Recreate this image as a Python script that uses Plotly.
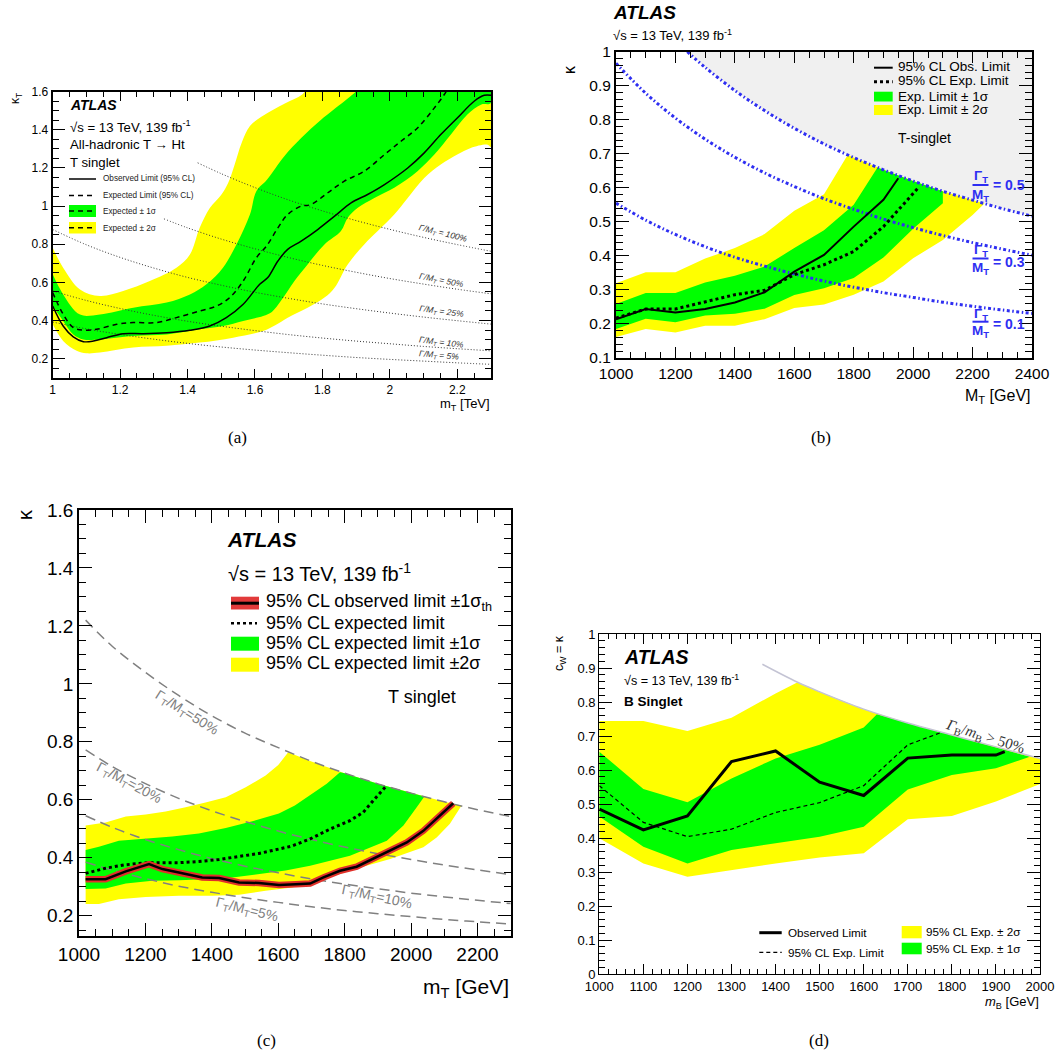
import plotly.graph_objects as go

W, H = 1062, 1056
SANS = "Liberation Sans"
SERIF = "Liberation Serif"
YEL = "#ffff00"
GRN = "#00ff00"

# ---------------- Panel (a) data: kappa_T vs m_T [TeV] ----------------
a_obs_x = [1.0, 1.031, 1.061, 1.091, 1.121, 1.16, 1.209, 1.268, 1.338, 1.407, 1.466, 1.515, 1.565, 1.614,
           1.638, 1.668, 1.697, 1.737, 1.786, 1.836, 1.885, 1.934, 1.984, 2.053, 2.102, 2.151, 2.2, 2.25, 2.28, 2.3]
a_obs_y = [0.476, 0.371, 0.314, 0.289, 0.292, 0.31, 0.331, 0.331, 0.336, 0.349, 0.371, 0.415, 0.485, 0.59,
           0.625, 0.712, 0.773, 0.816, 0.877, 0.947, 1.017, 1.061, 1.113, 1.2, 1.279, 1.375, 1.462, 1.55, 1.581, 1.581]
a_exp_x = [1.0, 1.031, 1.061, 1.091, 1.13, 1.19, 1.239, 1.308, 1.367, 1.436, 1.486, 1.525, 1.565, 1.604,
           1.634, 1.668, 1.697, 1.737, 1.766, 1.816, 1.865, 1.924, 1.984, 2.033, 2.082, 2.132, 2.161, 2.17]
a_exp_y = [0.546, 0.433, 0.363, 0.349, 0.354, 0.38, 0.389, 0.389, 0.415, 0.45, 0.476, 0.52, 0.607, 0.729,
           0.79, 0.886, 0.956, 1.0, 1.008, 1.07, 1.131, 1.183, 1.27, 1.34, 1.41, 1.515, 1.584, 1.61]
a_g_up_x = [1.0, 1.031, 1.081, 1.14, 1.239, 1.338, 1.407, 1.456, 1.505, 1.545, 1.585, 1.604, 1.636, 1.687,
            1.737, 1.796, 1.865, 1.895, 1.93, 2.3]
a_g_up_y = [0.642, 0.537, 0.431, 0.432, 0.467, 0.494, 0.537, 0.59, 0.677, 0.799, 0.956, 1.078, 1.14, 1.262,
            1.357, 1.453, 1.55, 1.593, 1.65, 1.65]
a_g_lo_x = [1.0, 1.031, 1.061, 1.091, 1.14, 1.239, 1.338, 1.436, 1.505, 1.565, 1.624, 1.65, 1.677, 1.717,
            1.756, 1.806, 1.855, 1.875, 1.905, 1.954, 2.013, 2.082, 2.132, 2.181, 2.23, 2.27, 2.3]
a_g_lo_y = [0.476, 0.398, 0.327, 0.301, 0.301, 0.319, 0.327, 0.354, 0.371, 0.398, 0.424, 0.445, 0.503, 0.607,
            0.694, 0.799, 0.869, 0.939, 0.991, 1.043, 1.096, 1.183, 1.27, 1.375, 1.48, 1.532, 1.541]
a_y_up_x = [1.0, 1.031, 1.081, 1.14, 1.209, 1.288, 1.367, 1.407, 1.436, 1.466, 1.5, 1.52, 1.54, 1.56,
            1.585, 1.62, 1.69, 1.74, 1.77, 2.3]
a_y_up_y = [0.782, 0.677, 0.563, 0.529, 0.555, 0.607, 0.677, 0.746, 0.886, 0.99, 1.06, 1.12, 1.22, 1.33,
            1.42, 1.47, 1.54, 1.585, 1.65, 1.65]
a_y_lo_x = [1.0, 1.031, 1.071, 1.1, 1.14, 1.239, 1.338, 1.436, 1.535, 1.624, 1.66, 1.697, 1.756, 1.806,
            1.836, 1.875, 1.924, 1.964, 2.013, 2.053, 2.102, 2.151, 2.2, 2.24, 2.29, 2.3]
a_y_lo_y = [0.38, 0.293, 0.241, 0.228, 0.232, 0.258, 0.267, 0.284, 0.31, 0.345, 0.375, 0.415, 0.467, 0.52,
            0.572, 0.694, 0.799, 0.869, 0.956, 1.043, 1.148, 1.218, 1.27, 1.305, 1.322, 1.31]
a_w_x = [1.0, 1.1, 1.2, 1.3, 1.4, 1.5, 1.6, 1.7, 1.8, 1.9, 2.0, 2.1, 2.2, 2.3]
a_w100_x = [1.43, 1.5, 1.6, 1.7, 1.8, 1.9, 2.0, 2.1, 2.2, 2.3]
a_w100_y = [1.227, 1.17, 1.097, 1.032, 0.975, 0.924, 0.878, 0.836, 0.798, 0.763]
a_w50_x = [1.33, 1.4, 1.5, 1.6, 1.7, 1.8, 1.9, 2.0, 2.1, 2.2, 2.3]
a_w50_y = [0.933, 0.886, 0.827, 0.776, 0.730, 0.689, 0.653, 0.620, 0.591, 0.564, 0.540]
a_w25_y = [0.877, 0.797, 0.731, 0.675, 0.626, 0.585, 0.548, 0.516, 0.487, 0.462, 0.439, 0.418, 0.399, 0.381]
a_w10_y = [0.555, 0.505, 0.463, 0.427, 0.396, 0.370, 0.347, 0.326, 0.308, 0.292, 0.278, 0.264, 0.252, 0.241]
a_w05_y = [0.392, 0.356, 0.327, 0.302, 0.280, 0.261, 0.245, 0.231, 0.218, 0.206, 0.196, 0.187, 0.178, 0.170]
a_xticks = [1.0, 1.2, 1.4, 1.6, 1.8, 2.0, 2.2]
a_yticks = [0.2, 0.4, 0.6, 0.8, 1.0, 1.2, 1.4, 1.6]

# ---------------- Panel (b) data: kappa vs M_T [GeV] ----------------
b_obs_x = [1000, 1100, 1200, 1300, 1400, 1500, 1600, 1700, 1800, 1900, 1950]
b_obs_y = [0.214, 0.244, 0.234, 0.244, 0.263, 0.293, 0.354, 0.403, 0.486, 0.565, 0.628]
b_exp_x = [1000, 1100, 1200, 1300, 1400, 1500, 1600, 1700, 1800, 1900, 2000, 2017]
b_exp_y = [0.217, 0.244, 0.244, 0.266, 0.286, 0.299, 0.345, 0.374, 0.413, 0.486, 0.585, 0.60]
b_g_up_x = [1000, 1100, 1200, 1300, 1400, 1500, 1600, 1700, 1800, 1880, 1900, 2000, 2100]
b_g_up_y = [0.259, 0.291, 0.291, 0.322, 0.342, 0.369, 0.423, 0.475, 0.55, 0.66, 0.653, 0.62, 0.59]
b_g_lo_x = [1000, 1100, 1200, 1300, 1400, 1500, 1600, 1700, 1800, 1900, 2000, 2100]
b_g_lo_y = [0.185, 0.215, 0.205, 0.225, 0.23, 0.245, 0.285, 0.305, 0.335, 0.395, 0.48, 0.555]
b_y_up_x = [1000, 1100, 1200, 1300, 1400, 1500, 1600, 1700, 1780, 1800, 1900, 2000, 2100, 2200, 2240]
b_y_up_y = [0.32, 0.352, 0.352, 0.392, 0.423, 0.464, 0.533, 0.581, 0.697, 0.689, 0.653, 0.62, 0.59, 0.564, 0.554]
b_y_lo_x = [1000, 1100, 1200, 1300, 1400, 1500, 1600, 1700, 1800, 1900, 2000, 2100, 2200, 2240]
b_y_lo_y = [0.162, 0.185, 0.175, 0.195, 0.195, 0.214, 0.247, 0.257, 0.286, 0.325, 0.393, 0.447, 0.52, 0.554]
b_w_x = [1000, 1100, 1200, 1300, 1400, 1500, 1600, 1700, 1800, 1900, 2000, 2100, 2200, 2300, 2400]
b_w05_x = [1240, 1300, 1400, 1500, 1600, 1700, 1800, 1900, 2000, 2100, 2200, 2300, 2400]
b_w05_y = [1.0, 0.954, 0.886, 0.827, 0.775, 0.729, 0.689, 0.653, 0.62, 0.59, 0.564, 0.539, 0.517]
b_w03_y = [0.966, 0.878, 0.805, 0.743, 0.69, 0.644, 0.604, 0.568, 0.537, 0.508, 0.483, 0.46, 0.439, 0.42, 0.402]
b_w01_y = [0.555, 0.505, 0.463, 0.427, 0.396, 0.37, 0.347, 0.326, 0.308, 0.292, 0.278, 0.264, 0.252, 0.241, 0.231]
b_xticks = [1000, 1200, 1400, 1600, 1800, 2000, 2200, 2400]
b_yticks = [0.1, 0.2, 0.3, 0.4, 0.5, 0.6, 0.7, 0.8, 0.9, 1.0]

# ---------------- Panel (c) data: kappa vs m_T [GeV] ----------------
c_obs_x = [1020, 1080, 1141, 1211, 1251, 1311, 1371, 1422, 1482, 1542, 1602, 1653, 1696, 1736, 1786,
           1836, 1886, 1937, 1987, 2037, 2077, 2107, 2127]
c_obs_y = [0.326, 0.326, 0.353, 0.378, 0.361, 0.346, 0.332, 0.33, 0.315, 0.313, 0.306, 0.309, 0.311, 0.332,
           0.355, 0.369, 0.396, 0.424, 0.453, 0.493, 0.534, 0.568, 0.588]
c_exp_x = [1020, 1080, 1141, 1211, 1301, 1361, 1422, 1482, 1542, 1602, 1640, 1696, 1756, 1816, 1856, 1886, 1922]
c_exp_y = [0.346, 0.364, 0.376, 0.383, 0.383, 0.387, 0.394, 0.404, 0.415, 0.43, 0.44, 0.465, 0.499, 0.528,
           0.557, 0.597, 0.643]
c_g_up_x = [1020, 1060, 1120, 1201, 1281, 1361, 1442, 1522, 1602, 1650, 1696, 1746, 1786, 1800, 1900, 2000, 2040]
c_g_up_y = [0.427, 0.438, 0.459, 0.465, 0.473, 0.484, 0.503, 0.526, 0.553, 0.58, 0.615, 0.655, 0.695, 0.692,
            0.655, 0.623, 0.611]
c_g_lo_x = [1020, 1080, 1141, 1221, 1301, 1381, 1462, 1542, 1622, 1696, 1756, 1816, 1876, 1927, 1977, 2017, 2040]
c_g_lo_y = [0.292, 0.294, 0.311, 0.321, 0.322, 0.326, 0.332, 0.344, 0.356, 0.372, 0.39, 0.407, 0.436, 0.459,
            0.511, 0.574, 0.611]
c_y_up_x = [1020, 1080, 1141, 1201, 1261, 1321, 1381, 1442, 1502, 1562, 1600, 1630, 1700, 1800, 1900, 2000, 2100, 2152]
c_y_up_y = [0.511, 0.522, 0.542, 0.549, 0.56, 0.574, 0.591, 0.609, 0.643, 0.684, 0.72, 0.764, 0.732, 0.692,
            0.655, 0.623, 0.593, 0.58]
c_y_lo_x = [1020, 1060, 1120, 1201, 1301, 1401, 1482, 1562, 1642, 1736, 1836, 1937, 2037, 2077, 2117, 2152]
c_y_lo_y = [0.24, 0.24, 0.257, 0.265, 0.269, 0.269, 0.272, 0.286, 0.297, 0.326, 0.363, 0.396, 0.436, 0.47,
            0.517, 0.58]
c_w_x = [1020, 1100, 1200, 1300, 1400, 1500, 1600, 1700, 1800, 1900, 2000, 2100, 2200, 2300]
c_w50_y = [1.22, 1.13, 1.04, 0.96, 0.89, 0.83, 0.78, 0.733, 0.692, 0.655, 0.623, 0.593, 0.566, 0.542]
c_w20_y = [0.772, 0.715, 0.656, 0.605, 0.562, 0.525, 0.492, 0.463, 0.437, 0.414, 0.394, 0.375, 0.358, 0.342]
c_w10_y = [0.545, 0.505, 0.463, 0.428, 0.397, 0.371, 0.348, 0.327, 0.309, 0.293, 0.278, 0.265, 0.253, 0.242]
c_w05_y = [0.385, 0.357, 0.328, 0.302, 0.281, 0.262, 0.246, 0.231, 0.218, 0.207, 0.197, 0.187, 0.179, 0.171]
c_xticks = [1000, 1200, 1400, 1600, 1800, 2000, 2200]
c_yticks = [0.2, 0.4, 0.6, 0.8, 1.0, 1.2, 1.4, 1.6]

# ---------------- Panel (d) data: c_W = kappa vs m_B [GeV] ----------------
d_obs_x = [1000, 1100, 1200, 1300, 1400, 1500, 1600, 1700, 1800, 1900, 1920]
d_obs_y = [0.485, 0.424, 0.465, 0.625, 0.656, 0.564, 0.525, 0.635, 0.644, 0.644, 0.654]
d_exp_x = [1000, 1100, 1200, 1300, 1400, 1500, 1600, 1700, 1775]
d_exp_y = [0.554, 0.446, 0.404, 0.426, 0.475, 0.504, 0.554, 0.674, 0.71]
d_g_up_x = [1000, 1100, 1200, 1300, 1400, 1500, 1600, 1630, 1700, 1800, 1900, 1977]
d_g_up_y = [0.654, 0.544, 0.505, 0.575, 0.634, 0.674, 0.725, 0.764, 0.738, 0.703, 0.668, 0.639]
d_g_lo_x = [1000, 1100, 1200, 1300, 1400, 1500, 1600, 1700, 1800, 1900, 1977]
d_g_lo_y = [0.463, 0.374, 0.325, 0.365, 0.384, 0.404, 0.433, 0.543, 0.585, 0.605, 0.639]
d_y_up_x = [1000, 1100, 1200, 1300, 1400, 1450, 1500, 1600, 1700, 1800, 1900, 2000]
d_y_up_y = [0.744, 0.744, 0.715, 0.754, 0.825, 0.858, 0.83, 0.779, 0.738, 0.703, 0.668, 0.634]
d_y_lo_x = [1000, 1100, 1200, 1300, 1400, 1500, 1600, 1700, 1800, 1900, 2000]
d_y_lo_y = [0.399, 0.325, 0.286, 0.306, 0.325, 0.343, 0.355, 0.455, 0.465, 0.507, 0.559]
d_bound_x = [1370, 1450, 1500, 1600, 1700, 1800, 1900, 2000]
d_bound_y = [0.911, 0.858, 0.83, 0.779, 0.738, 0.703, 0.668, 0.634]
d_xticks = [1000, 1100, 1200, 1300, 1400, 1500, 1600, 1700, 1800, 1900, 2000]
d_yticks = [0.0, 0.1, 0.2, 0.3, 0.4, 0.5, 0.6, 0.7, 0.8, 0.9, 1.0]

fig = go.Figure()


def band(xa, ya, up_x, up_y, lo_x, lo_y, color, shape="linear"):
    fig.add_trace(go.Scatter(x=list(up_x) + list(lo_x)[::-1], y=list(up_y) + list(lo_y)[::-1],
                             fill="toself", fillcolor=color, mode="lines", line=dict(width=0, color=color, shape=shape),
                             xaxis=xa, yaxis=ya, hoverinfo="skip"))


def line(xa, ya, x, y, color="black", width=1.5, dash="solid", shape="linear"):
    fig.add_trace(go.Scatter(x=x, y=y, mode="lines", line=dict(color=color, width=width, dash=dash, shape=shape),
                             xaxis=xa, yaxis=ya, hoverinfo="skip"))


# ---- (a)
band("x", "y", a_y_up_x, a_y_up_y, a_y_lo_x, a_y_lo_y, YEL, "spline")
band("x", "y", a_g_up_x, a_g_up_y, a_g_lo_x, a_g_lo_y, GRN, "spline")
for wx, wy in [(a_w100_x, a_w100_y), (a_w50_x, a_w50_y), (a_w_x, a_w25_y), (a_w_x, a_w10_y), (a_w_x, a_w05_y)]:
    line("x", "y", wx, wy, color="#333333", width=1, dash="1px,2px", shape="spline")
line("x", "y", a_exp_x, a_exp_y, width=1.5, dash="5px,4px", shape="spline")
line("x", "y", a_obs_x, a_obs_y, width=1.5, shape="spline")

# ---- (b)
b_gray_x = list(b_w05_x) + [2400, 1240]
b_gray_y = list(b_w05_y) + [1.0, 1.0]
fig.add_trace(go.Scatter(x=b_gray_x, y=b_gray_y, fill="toself", fillcolor="#f0f0f0", mode="lines",
                         line=dict(width=0), xaxis="x2", yaxis="y2", hoverinfo="skip"))
band("x2", "y2", b_y_up_x, b_y_up_y, b_y_lo_x, b_y_lo_y, YEL)
band("x2", "y2", b_g_up_x, b_g_up_y, b_g_lo_x, b_g_lo_y, GRN)
BLUE = "#2e2ef2"
BDASH = "3px,2.5px,1.5px,2.5px"
line("x2", "y2", b_w05_x, b_w05_y, color=BLUE, width=3, dash=BDASH, shape="spline")
line("x2", "y2", b_w_x, b_w03_y, color=BLUE, width=3, dash=BDASH, shape="spline")
line("x2", "y2", b_w_x, b_w01_y, color=BLUE, width=3, dash=BDASH, shape="spline")
line("x2", "y2", b_exp_x, b_exp_y, width=3, dash="dot")
line("x2", "y2", b_obs_x, b_obs_y, width=2)

# ---- (c)
band("x3", "y3", c_y_up_x, c_y_up_y, c_y_lo_x, c_y_lo_y, YEL)
band("x3", "y3", c_g_up_x, c_g_up_y, c_g_lo_x, c_g_lo_y, GRN)
for wy in [c_w50_y, c_w20_y, c_w10_y, c_w05_y]:
    line("x3", "y3", c_w_x, wy, color="#808080", width=1.5, dash="10px,6px", shape="spline")
line("x3", "y3", c_exp_x, c_exp_y, width=3, dash="dot")
line("x3", "y3", c_obs_x, c_obs_y, color="#e0302a", width=6.5)
line("x3", "y3", c_obs_x, c_obs_y, color="black", width=2.5)

# ---- (d)
band("x4", "y4", d_y_up_x, d_y_up_y, d_y_lo_x, d_y_lo_y, YEL)
band("x4", "y4", d_g_up_x, d_g_up_y, d_g_lo_x, d_g_lo_y, GRN)
line("x4", "y4", d_bound_x, d_bound_y, color="#c4c4d4", width=1.5, shape="spline")
line("x4", "y4", d_exp_x, d_exp_y, width=1.2, dash="4px,3px")
line("x4", "y4", d_obs_x, d_obs_y, width=3)


def fmt(v):
    return f"{v:g}"


def axis(domain, rng, tickvals, minor_dtick, ticklen, minorlen, fsize, anchor, minor_tick0, lw=1.5):
    return dict(domain=domain, range=rng, anchor=anchor, automargin=False, showline=True, linecolor="black",
                linewidth=lw, mirror="allticks", ticks="inside", ticklen=ticklen, tickwidth=1, tickcolor="black",
                tickmode="array", tickvals=tickvals, ticktext=[fmt(v) for v in tickvals],
                minor=dict(ticks="inside", ticklen=minorlen, tickmode="linear", tick0=minor_tick0, dtick=minor_dtick,
                           tickcolor="black", tickwidth=1, showgrid=False),
                showgrid=False, zeroline=False,
                tickfont=dict(family=SANS, size=fsize, color="black"))


def dom_x(p0, p1):
    return [p0 / W, p1 / W]


def dom_y(ptop, pbot):
    return [1 - pbot / H, 1 - ptop / H]


layout = dict(
    width=W, height=H, margin=dict(l=0, r=0, t=0, b=0, autoexpand=False), paper_bgcolor="white",
    plot_bgcolor="white", showlegend=False, hovermode=False,
    xaxis=axis(dom_x(52.7, 491), [1, 2.3], a_xticks, 0.05, 9, 5, 12, "y", 1.0, 2),
    yaxis=axis(dom_y(91.7, 377.7), [0.1, 1.6], a_yticks, 0.05, 12, 6, 12, "x", 0.1, 2),
    xaxis2=axis(dom_x(616, 1032), [1000, 2400], b_xticks, 50, 11, 6, 15.5, "y2", 1000, 2),
    yaxis2=axis(dom_y(51.7, 358), [0.1, 1.0], b_yticks, 0.02, 13, 7, 15.5, "x2", 0.1, 2),
    xaxis3=axis(dom_x(79, 510.7), [1000, 2300], c_xticks, 50, 13, 7, 19, "y3", 1000, 1.5),
    yaxis3=axis(dom_y(510, 936), [0.13, 1.6], c_yticks, 0.05, 13, 7, 19, "x3", 0.2, 1.5),
    xaxis4=axis(dom_x(599.3, 1040), [1000, 2000], d_xticks, 20, 10, 5, 13, "y4", 1000, 1.2),
    yaxis4=axis(dom_y(634, 974), [0, 1], d_yticks, 0.02, 13, 6, 13, "x4", 0, 1.2),
)
fig.update_layout(**layout)

ann = []
shapes = []


def text(x, y, s, size, anchor="left", color="black", family=SANS, angle=0, yanchor="middle"):
    ann.append(dict(x=x / W, y=1 - y / H, xref="paper", yref="paper", text=s, showarrow=False,
                    xanchor=anchor, yanchor=yanchor, borderpad=0, textangle=angle,
                    font=dict(size=size, color=color, family=family)))


def hline(x0, x1, y, color="black", width=1.5, dash="solid"):
    shapes.append(dict(type="line", xref="paper", yref="paper", x0=x0 / W, x1=x1 / W, y0=1 - y / H, y1=1 - y / H,
                       line=dict(color=color, width=width, dash=dash)))


def rect(x0, y0, x1, y1, color):
    shapes.append(dict(type="rect", xref="paper", yref="paper", x0=x0 / W, x1=x1 / W, y0=1 - y1 / H, y1=1 - y0 / H,
                       fillcolor=color, line=dict(width=0)))


# ---- (a) texts
text(69, 105.3, "<b><i>ATLAS</i></b>", 14)
text(69, 126, "√s = 13 TeV, 139 fb<sup>-1</sup>", 13.2)
text(69, 144.3, "All-hadronic T → Ht", 13.2)
text(69, 162.3, "T singlet", 13.2)
hline(69, 96, 179, width=1.5)
hline(69, 96, 195.5, width=1.5, dash="5px,4px")
rect(69, 205, 96, 217, GRN)
hline(69, 96, 211, width=1.5, dash="5px,4px")
rect(69, 222, 96, 233.5, YEL)
hline(69, 96, 227.7, width=1.5, dash="5px,4px")
text(101.7, 179, "Observed Limit (95% CL)", 8.2, color="#222")
text(101.7, 196, "Expected Limit (95% CL)", 8.2, color="#222")
text(101.7, 211.3, "Expected ± 1σ", 8.2, color="#222")
text(101.7, 228, "Expected ± 2σ", 8.2, color="#222")
for (lx, ly, s, ang) in [(443, 234, "100%", 14), (441, 280, "50%", 11), (441, 312, "25%", 8),
                         (441, 342, "10%", 7), (439, 355, "5%", 5)]:
    text(lx, ly, "<i>Γ/M<sub>T</sub> = " + s + "</i>", 8.5, anchor="center", color="#333", angle=ang)
text(491, 404, "m<sub>T</sub> [TeV]", 13, anchor="right")
text(16.5, 98.5, "κ<sub>T</sub>", 12, anchor="center", angle=-90)

# ---- (b) texts
text(612, 12.5, "<b><i>ATLAS</i></b>", 19)
text(612, 35, "√s = 13 TeV, 139 fb<sup>-1</sup>", 13)
hline(874, 892.7, 67.7, width=2)
hline(874, 892.7, 81.7, width=3, dash="dot")
rect(874, 91.7, 892.7, 101.5, GRN)
rect(874, 105, 892.7, 115, YEL)
text(897, 66.7, "95% CL Obs. Limit", 13.5)
text(897, 81, "95% CL Exp. Limit", 13.5)
text(897, 96, "Exp. Limit ± 1σ", 13.5)
text(897, 109.5, "Exp. Limit ± 2σ", 13.5)
text(897, 137.7, "T-singlet", 14)
for (yg, ybar, ym, yv, val) in [(176.5, 185, 195.5, 185, "0.5"), (251, 258.5, 268.5, 262, "0.3"),
                                (314, 321.7, 331.5, 324, "0.1")]:
    text(980.5, yg, "<b>Γ<sub>T</sub></b>", 13.5, anchor="center", color=BLUE)
    hline(972.5, 988.5, ybar, color=BLUE, width=2)
    text(980.5, ym, "<b>M<sub>T</sub></b>", 13.5, anchor="center", color=BLUE)
    text(991.5, yv, "<b>= " + val + "</b>", 14, color=BLUE)
text(1032, 396, "M<sub>T</sub> [GeV]", 16, anchor="right")
text(569, 70, "κ", 16, anchor="center", angle=-90)

# ---- (c) texts
text(226, 539, "<b><i>ATLAS</i></b>", 21)
text(227, 572, "√s = 13 TeV, 139 fb<sup>-1</sup>", 20)
rect(231, 596.7, 259, 609.5, "#e23a3a")
hline(231, 259, 603.2, width=3)
hline(231, 257, 623.3, width=2.5, dash="dot")
rect(231, 636.7, 259, 650.7, GRN)
rect(231, 657.7, 259, 671.7, YEL)
text(265, 602.3, "95% CL observed limit ±1σ<sub>th</sub>", 18)
text(265, 622.7, "95% CL expected limit", 18)
text(265, 642.7, "95% CL expected limit ±1σ", 18)
text(265, 663, "95% CL expected limit ±2σ", 18)
text(387, 697, "T singlet", 18)
for (lx, ly, s, ang) in [(186.7, 712.7, "50%", 32), (128.3, 783.3, "20%", 28), (376, 897.3, "10%", 12),
                         (246.7, 910, "5%", 14)]:
    text(lx, ly, "Γ<sub>T</sub>/M<sub>T</sub>=" + s, 14, anchor="center", color="#808080", angle=ang)
text(510, 988, "m<sub>T</sub> [GeV]", 21, anchor="right")
text(25, 515, "κ", 20, anchor="center", angle=-90)

# ---- (d) texts
text(622.7, 656.7, "<b><i>ATLAS</i></b>", 19.5)
text(623, 680, "√s = 13 TeV, 139 fb<sup>-1</sup>", 12.6)
text(623, 701.7, "<b>B Singlet</b>", 13.5)
hline(759.3, 781.7, 932.7, width=3)
hline(759.3, 781.7, 952.3, width=1.2, dash="4px,3px")
rect(901.7, 926, 921.7, 938.3, YEL)
rect(901.7, 942.7, 921.7, 954.3, GRN)
text(786.7, 932.7, "Observed Limit", 11.7)
text(786.7, 952.3, "95% CL Exp. Limit", 11.7)
text(925, 931.7, "95% CL Exp. ± 2σ", 11.7)
text(925, 948.3, "95% CL Exp. ± 1σ", 11.7)
text(985, 737.3, "<i>Γ</i><sub>B</sub>/<i>m</i><sub>B</sub> > 50%", 15, anchor="center", color="#333",
     family=SERIF, angle=17.5)
text(1040, 1002, "<i>m</i><sub>B</sub> [GeV]", 13, anchor="right")
text(560, 653, "c<sub>W</sub> = κ", 12.5, anchor="center", angle=-90)

# ---- captions
text(237.5, 437, "(a)", 17, anchor="center", family=SERIF)
text(820.5, 437, "(b)", 17, anchor="center", family=SERIF)
text(266.5, 1040, "(c)", 17, anchor="center", family=SERIF)
text(818.5, 1040, "(d)", 17, anchor="center", family=SERIF)

fig.update_layout(annotations=ann, shapes=shapes)
fig.write_html("out.html")
